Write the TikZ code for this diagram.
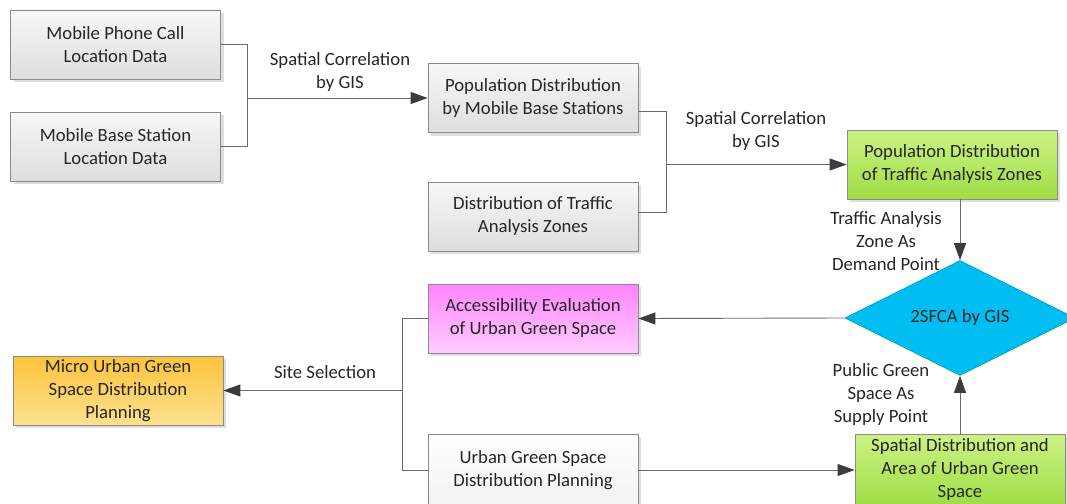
\documentclass[tikz,border=0pt]{standalone}
\usepackage{fontspec}
\setmainfont{Carlito}
\usetikzlibrary{shapes.geometric,arrows.meta,shadows}
\definecolor{boxline}{HTML}{8A8A8A}
\definecolor{linkgray}{HTML}{6A6A6A}
\definecolor{tipgray}{HTML}{3C3C3C}
\definecolor{greytop}{HTML}{F7F7F7}
\definecolor{greybot}{HTML}{DEDEDE}
\definecolor{greentop}{HTML}{CDF285}
\definecolor{greenbot}{HTML}{9EDD45}
\definecolor{pinktop}{HTML}{FF85FF}
\definecolor{pinkbot}{HTML}{FFCCFF}
\definecolor{orangetop}{HTML}{FCC33A}
\definecolor{orangebot}{HTML}{FDE190}
\definecolor{sfcablue}{HTML}{00BEF2}
\tikzset{
  box/.style={draw=boxline, line width=0.8pt, minimum width=210pt, minimum height=69pt,
    align=center, inner sep=2pt, text=black!85,
    drop shadow={shadow xshift=3pt, shadow yshift=-3pt, opacity=0.25, fill=black!50},
    font=\fontsize{18.7}{23}\selectfont},
  greybox/.style={box, top color=greytop, bottom color=greybot},
  whitebox/.style={box, top color=white, bottom color=greytop!80!greybot},
  greenbox/.style={box, top color=greentop, bottom color=greenbot},
  pinkbox/.style={box, top color=pinktop, bottom color=pinkbot},
  orangebox/.style={box, top color=orangetop, bottom color=orangebot},
  decision/.style={diamond, draw=sfcablue!80!black, line width=0.6pt, fill=sfcablue,
    minimum width=230pt, minimum height=70pt, inner sep=0pt, text=black!85,
    font=\fontsize{18.7}{23}\selectfont},
  link/.style={draw=linkgray, line width=0.9pt},
  arr/.style={link, -{Triangle[length=17pt,width=12pt,color=tipgray]}},
  lab/.style={align=center, text=black!85, font=\fontsize{18.7}{23}\selectfont}
}
\begin{document}
\begin{tikzpicture}[x=1pt,y=-1pt]
  \useasboundingbox (0,0) rectangle (1067,503);
  \clip (0,0) rectangle (1067,503);
  \node[greybox] (callloc) at (115.5,44.5) {Mobile Phone Call\\Location Data};
  \node[greybox] (baseloc) at (115.5,146.5) {Mobile Base Station\\Location Data};
  \node[greybox] (popbase) at (533,98) {Population Distribution\\by Mobile Base Stations};
  \node[greybox] (tazdist) at (533,216.5) {Distribution of Traffic\\Analysis Zones};
  \node[greenbox] (poptaz) at (952,164.5) {Population Distribution\\of Traffic Analysis Zones};
  \node[decision] (sfca) at (960,318) {2SFCA by GIS};
  \node[pinkbox] (access) at (533,318.5) {Accessibility Evaluation\\of Urban Green Space};
  \node[whitebox, minimum height=72pt] (ugsplan) at (533,470) {Urban Green Space\\Distribution Planning};
  \node[greenbox, minimum height=72pt] (greenarea) at (960,470) {Spatial Distribution and\\Area of Urban Green\\Space};
  \node[orangebox] (micro) at (118,390.5) {Micro Urban Green\\Space Distribution\\Planning};
  \coordinate (j1) at (247,98);
  \coordinate (j2) at (666,164.5);
  \coordinate (j3) at (402,390.5);
  \node[lab] (corr1) at (340,72) {Spatial Correlation\\by GIS};
  \node[lab] (corr2) at (756,131.5) {Spatial Correlation\\by GIS};
  \node[lab] (demand) at (886,241) {Traffic Analysis\\Zone As\\Demand Point};
  \node[lab] (supply) at (881,395) {Public Green\\Space As\\Supply Point};
  \node[lab] (site) at (325,372) {Site Selection};
  \draw[link] (callloc.east) -| (j1);
  \draw[link] (baseloc.east) -| (j1);
  \draw[arr] (j1) -- (popbase.west);
  \draw[link] ([yshift=-13pt]popbase.east) -| (j2);
  \draw[link] ([yshift=4.5pt]tazdist.east) -| (j2);
  \draw[arr] (j2) -- (poptaz.west);
  \draw[arr] (poptaz.south -| sfca.north) -- (sfca.north);
  \draw[arr] (sfca.west) -- (access.east);
  \draw[link] (access.west) -| (j3);
  \draw[link] (ugsplan.west) -| (j3);
  \draw[arr] (j3) -- (micro.east);
  \draw[arr] (ugsplan.east) -- (greenarea.west);
  \draw[arr] (greenarea.north) -- (sfca.south);
\end{tikzpicture}
\end{document}
